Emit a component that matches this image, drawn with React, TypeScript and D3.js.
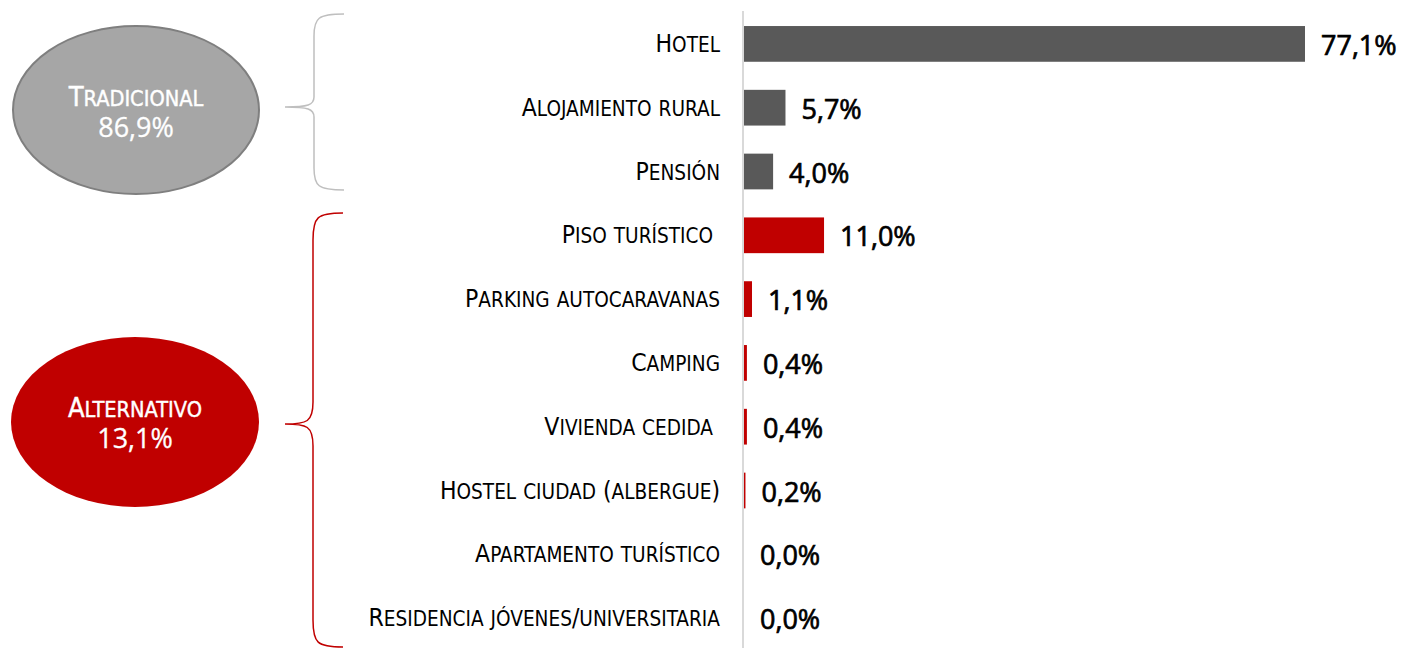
import React from "react";
import * as d3 from "d3";

const categories = [
  "Hotel",
  "Alojamiento rural",
  "Pensión",
  "Piso turístico ",
  "Parking autocaravanas",
  "Camping",
  "Vivienda cedida ",
  "Hostel ciudad (albergue)",
  "Apartamento turístico",
  "Residencia jóvenes/universitaria",
];
const values = [77.1, 5.7, 4.0, 11.0, 1.1, 0.4, 0.4, 0.2, 0.0, 0.0];
const groupOf = ["T", "T", "T", "A", "A", "A", "A", "A", "A", "A"];
const groupNames = ["Tradicional", "Alternativo"];
const groupTotals = [86.9, 13.1];

const W = 1404;
const H = 648;
const GRAY = "#595959";
const RED = "#c00000";
const LABEL_FONT = "'Liberation Sans Narrow', 'DejaVu Sans Condensed', 'Arial Narrow', sans-serif";
const VALUE_FONT = "'Open Sans', 'Liberation Sans', sans-serif";

const fmt = (v: number) => v.toFixed(1).replace(".", ",") + "%";

function SmallCaps({ text, size, ratio = 0.82 }: { text: string; size: number; ratio?: number }) {
  const runs: { s: string; low: boolean }[] = [];
  for (const ch of text) {
    const low = ch !== ch.toUpperCase() && ch === ch.toLowerCase();
    const last = runs[runs.length - 1];
    if (last && last.low === low) last.s += ch;
    else runs.push({ s: ch, low });
  }
  return (
    <>
      {runs.map((r, i) => (
        <tspan
          key={i}
          style={{ fontSize: r.low ? size * ratio : size, textTransform: r.low ? "uppercase" : "none", whiteSpace: "pre" }}
        >
          {r.s}
        </tspan>
      ))}
    </>
  );
}

function bracketPath(xEnd: number, xV: number, xTip: number, y0: number, yMid: number, y1: number, r1: number, r2: number) {
  const p = d3.path();
  p.moveTo(xEnd, y0);
  p.bezierCurveTo(xV + 4, y0, xV, y0 + 4, xV, y0 + r1);
  p.lineTo(xV, yMid - r2);
  p.bezierCurveTo(xV, yMid - 2, xV - 6, yMid, xTip, yMid);
  p.bezierCurveTo(xV - 6, yMid, xV, yMid + 2, xV, yMid + r2);
  p.lineTo(xV, y1 - r1);
  p.bezierCurveTo(xV, y1 - 4, xV + 4, y1, xEnd, y1);
  return p.toString();
}

export default function App() {
  const x = d3.scaleLinear().domain([0, 77.1]).range([744, 1305]);
  const y = d3
    .scaleBand<string>()
    .domain(categories)
    .range([12, 650])
    .paddingInner(0.44)
    .paddingOuter(0.22);
  const bw = y.bandwidth();

  return (
    <svg
      width={W}
      height={H}
      style={{ position: "absolute", left: 0, top: 0, display: "block", background: "#fff" }}
    >
      {/* brackets */}
      <path d={bracketPath(344, 314, 285, 14, 107, 190, 22, 10)} fill="none" stroke="#bfbfbf" strokeWidth={1.5} />
      <path d={bracketPath(343, 313, 285, 213, 424, 647, 27, 22)} fill="none" stroke={RED} strokeWidth={1.5} />

      {/* ellipses */}
      <ellipse cx={136} cy={110} rx={123} ry={84} fill="#a6a6a6" stroke="#7f7f7f" strokeWidth={2} />
      <ellipse cx={135} cy={422} rx={124} ry={85} fill={RED} />
      {groupNames.map((g, i) => {
        const cx = i === 0 ? 136 : 135;
        const base = i === 0 ? 106 : 417;
        return (
          <g key={g} fill="#fff" textAnchor="middle">
            <text x={cx} y={base} fontFamily={LABEL_FONT} stroke="#fff" strokeWidth={0.4} style={{ fontSize: 27 }}>
              <SmallCaps text={g} size={27} ratio={0.8} />
            </text>
            <text x={cx} y={base + 31} fontFamily={VALUE_FONT} fontSize={27} stroke="#fff" strokeWidth={0.3}>
              {fmt(groupTotals[i])}
            </text>
          </g>
        );
      })}

      {/* axis line */}
      <line x1={743} x2={743} y1={11} y2={H} stroke="#d9d9d9" strokeWidth={2} />

      {/* bars */}
      {categories.map((c, i) => {
        const yc = (y(c) as number) + bw / 2;
        const w = x(values[i]) - x(0);
        return (
          <g key={c}>
            {values[i] > 0 && (
              <rect
                x={x(0)}
                y={y(c) as number}
                width={w}
                height={bw}
                fill={groupOf[i] === "T" ? GRAY : RED}
              />
            )}
            <text
              x={720}
              y={yc + 8}
              textAnchor="end"
              fontFamily={LABEL_FONT}
              fill="#000"
              style={{ fontSize: 24.5, whiteSpace: "pre" }}
            >
              <SmallCaps text={c} size={24.5} ratio={0.84} />
            </text>
            <text
              x={x(values[i]) + 16}
              y={yc + 11}
              fontFamily={VALUE_FONT}
              fontSize={27}
              fill="#000"
              stroke="#000"
              strokeWidth={0.7}
            >
              {fmt(values[i])}
            </text>
          </g>
        );
      })}
    </svg>
  );
}
